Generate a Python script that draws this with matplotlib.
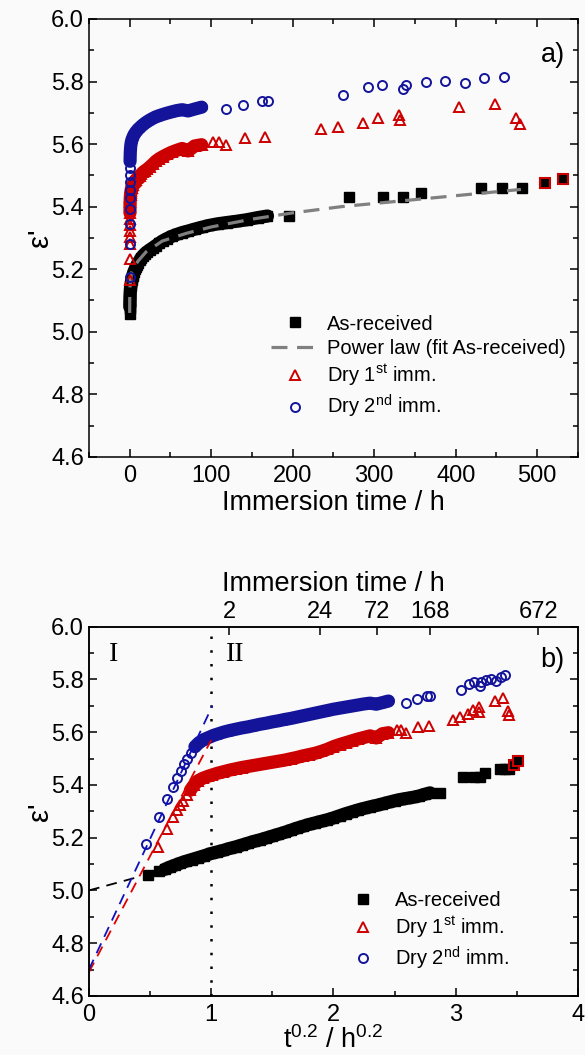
import numpy as np
import matplotlib
matplotlib.use('Agg')
import matplotlib.pyplot as plt
from matplotlib.ticker import MultipleLocator

plt.rcParams['font.family'] = ['Liberation Sans', 'DejaVu Sans']
plt.rcParams['mathtext.fontset'] = 'custom'
plt.rcParams['mathtext.rm'] = 'Liberation Sans'
plt.rcParams['mathtext.it'] = 'Liberation Sans:italic'

# dense parts (x = t^0.2 / h^0.2)
ar_x02 = [0.48, 0.575, 0.62, 0.66, 0.70, 0.745, 0.79, 0.84, 0.89, 0.94,
          1.00, 1.05, 1.10, 1.15, 1.20, 1.25, 1.30, 1.35, 1.40, 1.45,
          1.50, 1.55, 1.60, 1.65, 1.70, 1.75, 1.80, 1.85, 1.90, 1.95,
          2.00, 2.05, 2.10, 2.15, 2.20, 2.25, 2.30, 2.35, 2.40, 2.45,
          2.50, 2.55, 2.60, 2.65, 2.70, 2.75, 2.79]
ar_eps = [5.057, 5.073, 5.080, 5.088, 5.095, 5.103, 5.110, 5.117, 5.124, 5.131,
          5.140, 5.146, 5.152, 5.159, 5.165, 5.172, 5.179, 5.186, 5.192, 5.199,
          5.206, 5.213, 5.220, 5.228, 5.236, 5.243, 5.250, 5.256, 5.262, 5.268,
          5.275, 5.283, 5.291, 5.298, 5.305, 5.311, 5.317, 5.322, 5.328, 5.334,
          5.340, 5.345, 5.349, 5.353, 5.358, 5.365, 5.370]

d1_x02 = [0.567, 0.635, 0.684, 0.717, 0.744, 0.772, 0.800, 0.83, 0.86, 0.89,
          0.93, 0.97, 1.01, 1.05,
          1.10, 1.15, 1.20, 1.25, 1.30, 1.35, 1.40, 1.45, 1.50, 1.55,
          1.60, 1.65, 1.70, 1.75, 1.80, 1.85, 1.90, 1.95, 2.00, 2.05,
          2.10, 2.15, 2.20, 2.25, 2.30, 2.35, 2.40, 2.45]
d1_eps = [5.165, 5.234, 5.279, 5.304, 5.323, 5.340, 5.361, 5.380, 5.400, 5.415,
          5.425, 5.432, 5.438, 5.444,
          5.450, 5.456, 5.461, 5.466, 5.470, 5.474, 5.478, 5.482, 5.486, 5.490,
          5.494, 5.499, 5.504, 5.510, 5.515, 5.520, 5.527, 5.535, 5.545, 5.553,
          5.560, 5.567, 5.574, 5.580, 5.586, 5.578, 5.594, 5.598]

d2_x02 = [0.463, 0.573, 0.641, 0.690, 0.723, 0.750, 0.777, 0.804, 0.834, 0.867,
          0.90, 0.94, 0.98, 1.02, 1.06, 1.10,
          1.15, 1.20, 1.25, 1.30, 1.35, 1.40, 1.45, 1.50, 1.55, 1.60,
          1.65, 1.70, 1.75, 1.80, 1.85, 1.90, 1.95, 2.00, 2.05, 2.10,
          2.15, 2.20, 2.25, 2.30, 2.35, 2.40, 2.45]
d2_eps = [5.175, 5.279, 5.345, 5.393, 5.428, 5.452, 5.479, 5.500, 5.522, 5.545,
          5.560, 5.572, 5.580, 5.588, 5.594, 5.600,
          5.606, 5.611, 5.616, 5.620, 5.625, 5.630, 5.634, 5.639, 5.643, 5.648,
          5.652, 5.657, 5.662, 5.667, 5.672, 5.677, 5.682, 5.687, 5.691, 5.695,
          5.699, 5.703, 5.707, 5.710, 5.706, 5.712, 5.718]

# sparse late points (time in h)
ar_t_late = [196, 269, 311, 335, 358, 431, 457, 481]
ar_eps_late = [5.37, 5.43, 5.43, 5.43, 5.445, 5.46, 5.46, 5.46]
ar_t_red = [509, 532]
ar_eps_red = [5.474, 5.489]

d1_t_late = [102, 109, 118, 142, 166, 235, 256, 286, 305, 330, 332, 404, 448, 474, 479]
d1_eps_late = [5.608, 5.608, 5.598, 5.621, 5.623, 5.648, 5.656, 5.667, 5.683, 5.694,
               5.678, 5.720, 5.728, 5.682, 5.664]

d2_t_late = [118, 139, 162, 170, 262, 292, 310, 335, 339, 363, 387, 411, 435, 459]
d2_eps_late = [5.712, 5.725, 5.738, 5.738, 5.758, 5.784, 5.789, 5.776, 5.789, 5.797,
               5.802, 5.795, 5.810, 5.815]

# power law fit curve (panel a)
pl_t = [0.002, 0.05, 0.3, 1, 2.5, 5, 10, 20, 40, 70, 100, 150, 200, 260, 320, 380, 440, 480]
pl_eps = [5.06, 5.10, 5.14, 5.165, 5.19, 5.205, 5.225, 5.255, 5.29, 5.315, 5.335, 5.36,
          5.38, 5.40, 5.415, 5.43, 5.445, 5.455]

# linear fits in panel b
fit_ar_x = [0, 0.38]
fit_ar_eps = [5.0, 5.048]
fit_d1_x = [0, 1.0]
fit_d1_eps = [4.69, 5.57]
fit_d2_x = [0, 1.01]
fit_d2_eps = [4.70, 5.70]

top_hours = [2, 24, 72, 168, 672]

# index where the markers of each series merge into a solid band
band_ar, band_d1, band_d2 = 2, 7, 9

c_red = '#cc0000'
c_blue = '#14149b'
bg = '#fafafa'

fig = plt.figure(figsize=(5.85, 10.55), dpi=100, facecolor=bg)
ax1 = fig.add_axes([0.152, 0.567, 0.836, 0.415], facecolor=bg)
ax2 = fig.add_axes([0.152, 0.056, 0.836, 0.350], facecolor=bg)

sq = dict(marker='s', ms=6.5, color='k', ls='none')
tri = dict(marker='^', ms=7, mfc='none', mec=c_red, mew=1.4, ls='none')
circ = dict(marker='o', ms=6.5, mfc='none', mec=c_blue, mew=1.4, ls='none')


def band(ax, x, y, start, color):
    ax.plot(x[start:], y[start:], color=color, lw=9.5, solid_capstyle='round',
            solid_joinstyle='round', zorder=1.5)


# ---- panel a
t_ar = np.array(ar_x02) ** 5
t_d1 = np.array(d1_x02) ** 5
t_d2 = np.array(d2_x02) ** 5
band(ax1, t_ar, ar_eps, band_ar, 'k')
band(ax1, t_d1, d1_eps, band_d1, c_red)
band(ax1, t_d2, d2_eps, band_d2, c_blue)
ax1.plot(t_ar, ar_eps, **sq, label='As-received')
ax1.plot(ar_t_late, ar_eps_late, **sq)
ax1.plot(ar_t_red, ar_eps_red, marker='s', ms=6.5, mfc='k', mec=c_red, mew=1.5, ls='none')
ax1.plot(pl_t, pl_eps, color='#808080', lw=2.3, dashes=(5, 3), label='Power law (fit As-received)')
ax1.plot(t_d1, d1_eps, **tri, label='Dry 1$^{\\mathrm{st}}$ imm.')
ax1.plot(d1_t_late, d1_eps_late, **tri)
ax1.plot(t_d2, d2_eps, **circ, label='Dry 2$^{\\mathrm{nd}}$ imm.')
ax1.plot(d2_t_late, d2_eps_late, **circ)

ax1.set_xlim(-50, 550)
ax1.set_ylim(4.6, 6.0)
ax1.xaxis.set_major_locator(MultipleLocator(100))
ax1.xaxis.set_minor_locator(MultipleLocator(50))
ax1.yaxis.set_major_locator(MultipleLocator(0.2))
ax1.yaxis.set_minor_locator(MultipleLocator(0.1))
ax1.set_xlabel('Immersion time / h', fontsize=19.5, labelpad=2)
ax1.set_ylabel("ε'", fontsize=21, labelpad=-2)
ax1.text(0.973, 0.918, 'a)', transform=ax1.transAxes, fontsize=19.5, ha='right', va='center')
h, l = ax1.get_legend_handles_labels()
ax1.legend(h, l, loc='upper left', bbox_to_anchor=(0.372, 0.325), frameon=False, fontsize=14.5,
           handlelength=2.4, handletextpad=0.4, labelspacing=0.25, borderpad=0, borderaxespad=0,
           numpoints=1)

# ---- panel b
x_ar_late = np.array(ar_t_late) ** 0.2
x_ar_red = np.array(ar_t_red) ** 0.2
x_d1_late = np.array(d1_t_late) ** 0.2
x_d2_late = np.array(d2_t_late) ** 0.2
ax2.axvline(1, color='k', lw=1.8, ls=(0, (1, 4.5)), zorder=1)
band(ax2, ar_x02, ar_eps, band_ar, 'k')
band(ax2, d1_x02, d1_eps, band_d1, c_red)
band(ax2, d2_x02, d2_eps, band_d2, c_blue)
ax2.plot(ar_x02, ar_eps, **sq, label='As-received')
ax2.plot(x_ar_late, ar_eps_late, **sq)
ax2.plot(x_ar_red, ar_eps_red, marker='s', ms=6.5, mfc='k', mec=c_red, mew=1.5, ls='none')
ax2.plot(d1_x02, d1_eps, **tri, label='Dry 1$^{\\mathrm{st}}$ imm.')
ax2.plot(x_d1_late, d1_eps_late, **tri)
ax2.plot(d2_x02, d2_eps, **circ, label='Dry 2$^{\\mathrm{nd}}$ imm.')
ax2.plot(x_d2_late, d2_eps_late, **circ)
ax2.plot(fit_ar_x, fit_ar_eps, color='k', lw=1.3, dashes=(6, 4))
ax2.plot(fit_d1_x, fit_d1_eps, color='#e00000', lw=1.3, dashes=(6, 4))
ax2.plot(fit_d2_x, fit_d2_eps, color='#1010c0', lw=1.3, dashes=(6, 4))

ax2.set_xlim(0, 4)
ax2.set_ylim(4.6, 6.0)
ax2.xaxis.set_major_locator(MultipleLocator(1))
ax2.xaxis.set_minor_locator(MultipleLocator(0.5))
ax2.yaxis.set_major_locator(MultipleLocator(0.2))
ax2.yaxis.set_minor_locator(MultipleLocator(0.1))
ax2.set_xlabel('t$^{0.2}$ / h$^{0.2}$', fontsize=19.5, labelpad=0)
ax2.set_ylabel("ε'", fontsize=21, labelpad=-2)
ax2.text(0.973, 0.91, 'b)', transform=ax2.transAxes, fontsize=19.5, ha='right', va='center')
ax2.text(0.2, 5.894, 'I', family='Liberation Serif', fontsize=20, ha='center', va='center')
ax2.text(1.2, 5.894, 'II', family='Liberation Serif', fontsize=20, ha='center', va='center')
h, l = ax2.get_legend_handles_labels()
ax2.legend(h, l, loc='upper left', bbox_to_anchor=(0.51, 0.283), frameon=False, fontsize=14.5,
           handlelength=2.4, handletextpad=0.4, labelspacing=0.22, borderpad=0, borderaxespad=0,
           numpoints=1)

tw = ax2.twiny()
tw.set_xlim(0, 4)
tw.set_xticks(np.array(top_hours) ** 0.2)
tw.set_xticklabels([str(v) for v in top_hours])
tw.set_xlabel('Immersion time / h', fontsize=19.5, labelpad=7)
tw.tick_params(axis='x', direction='in', length=6, width=1.1, labelsize=17, pad=3)

for ax in (ax1, ax2):
    ax.tick_params(which='both', direction='in', width=1.1, labelsize=17, right=True,
                   top=(ax is ax1))
    ax.tick_params(which='major', length=6)
    ax.tick_params(which='minor', length=3.5)
    ax.tick_params(axis='x', pad=6)
    for s in ax.spines.values():
        s.set_linewidth(1.1)
for s in tw.spines.values():
    s.set_linewidth(1.1)

fig.savefig('out.png', dpi=100, facecolor=bg)
